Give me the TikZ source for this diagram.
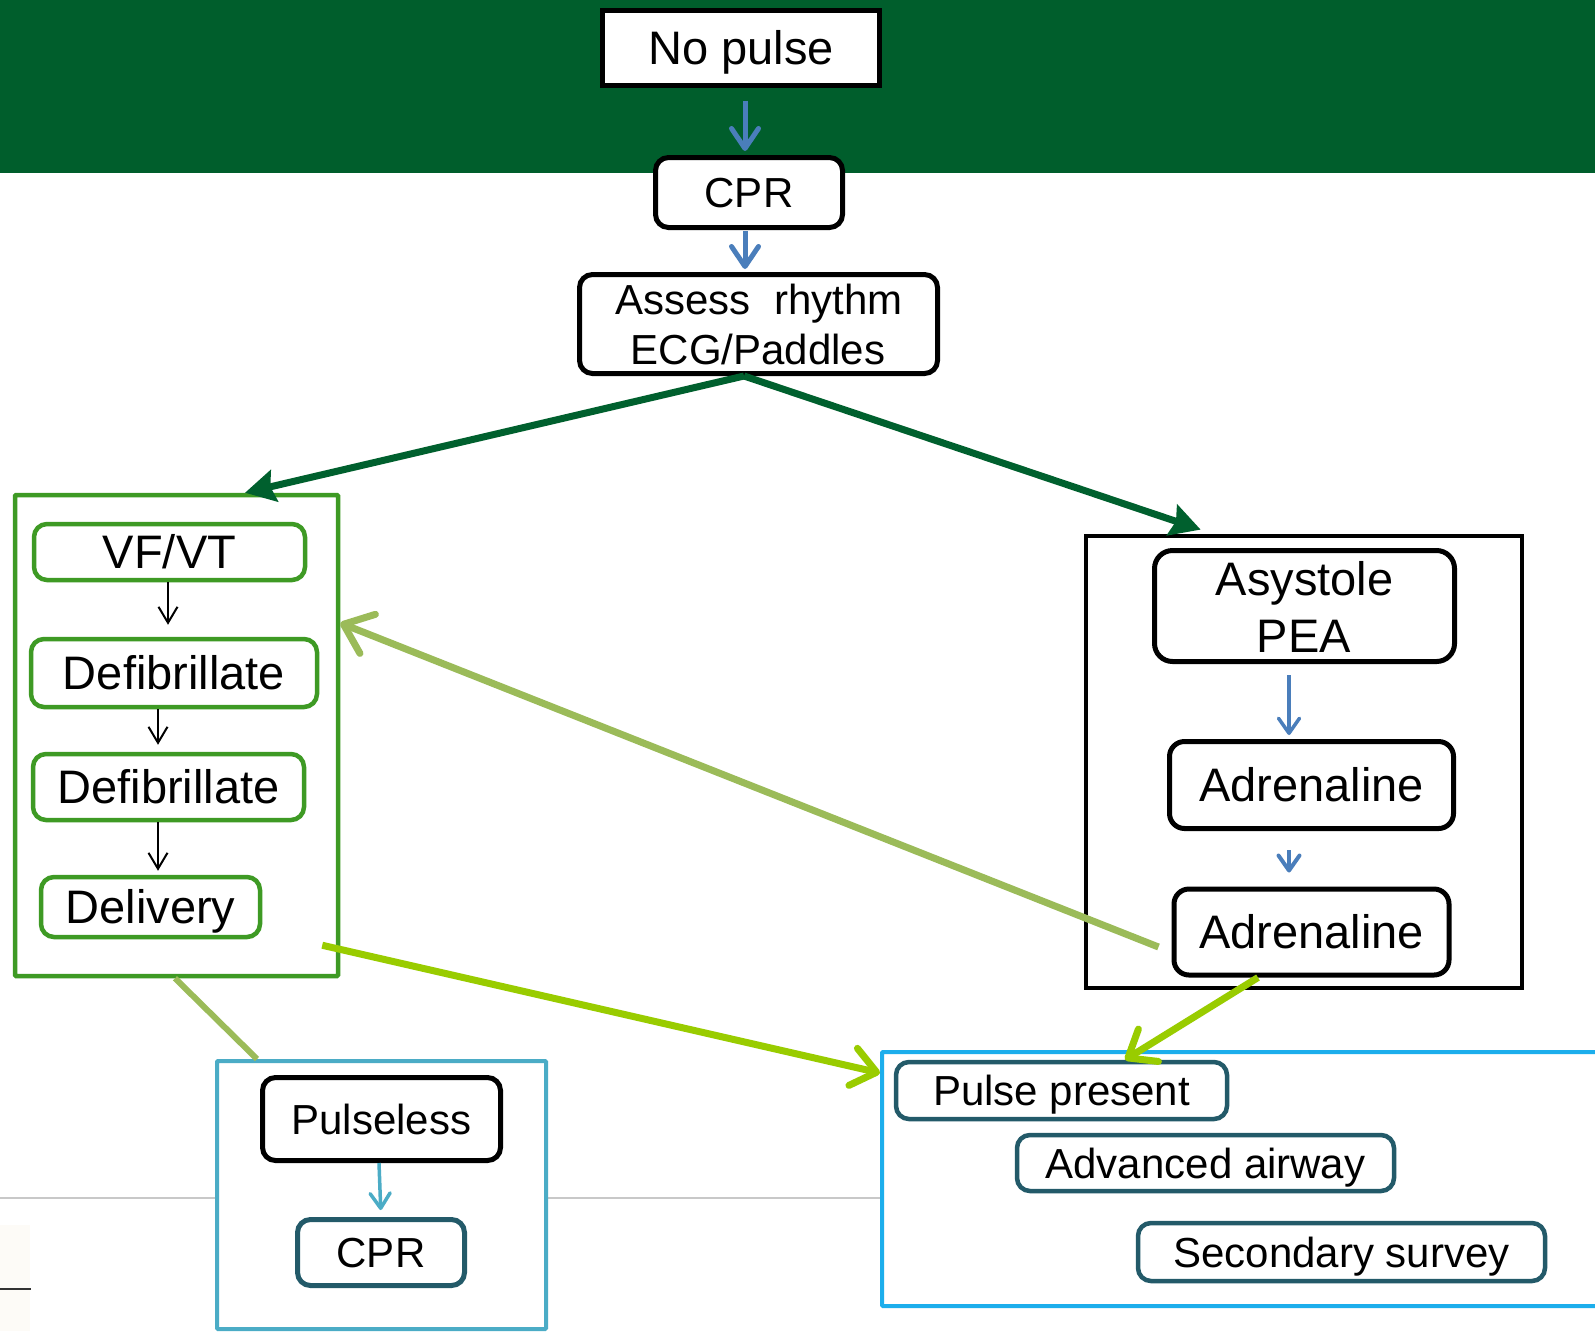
\documentclass[tikz,border=0pt]{standalone}
\usepackage{fontspec}
\setmainfont{Liberation Sans}
\usetikzlibrary{arrows.meta}
\definecolor{band}{RGB}{0,94,44}
\definecolor{dkgreen}{RGB}{0,96,46}
\definecolor{arrblue}{RGB}{74,126,187}
\definecolor{grpgreen}{RGB}{62,154,36}
\definecolor{olive}{RGB}{155,187,89}
\definecolor{lime}{RGB}{153,204,0}
\definecolor{ltblue}{RGB}{75,172,198}
\definecolor{teal}{RGB}{35,90,105}
\definecolor{skyblue}{RGB}{28,174,236}
\definecolor{rulegrey}{RGB}{200,200,200}
\definecolor{offwhite}{RGB}{253,251,247}
\definecolor{darkgrey}{RGB}{50,50,50}
\begin{document}
\begin{tikzpicture}[x=1pt,y=-1pt,
  big/.style={font=\fontsize{47}{56}\selectfont, text height=33.6pt, text depth=0pt},
  small/.style={font=\fontsize{42}{50}\selectfont, text height=30pt, text depth=0pt},
  bigtxt/.style={font=\fontsize{47}{56}\selectfont, inner sep=0pt, anchor=base},
  smalltxt/.style={font=\fontsize{42}{50}\selectfont, inner sep=0pt, anchor=base},
  box/.style={draw, fill=white, inner sep=0pt, rounded corners=13pt, line width=5pt},
  blackbox/.style={box, draw=black},
  greenbox/.style={box, draw=grpgreen, line width=4.5pt},
  tealbox/.style={box, draw=teal, line width=4.5pt},
  group/.style={draw, fill=white, inner sep=0pt, line width=4pt, rounded corners=1pt},
  bluearr/.style={draw=arrblue, line width=5pt, -{Straight Barb[length=20pt,width=27pt,round]}},
  thinblue/.style={draw=arrblue, line width=3.5pt, -{Straight Barb[length=15pt,width=21pt,round]}},
  blackarr/.style={draw=black, line width=2pt, -{Straight Barb[length=16pt,width=19pt]}},
  darkarr/.style={draw=dkgreen, line width=7pt, -{Stealth[length=30pt,width=32pt,inset=4pt]}},
  olivearr/.style={draw=olive, line width=7pt, -{Straight Barb[length=26pt,width=42pt,round]}},
  limearr/.style={draw=lime, line width=7pt, -{Straight Barb[length=24pt,width=38pt,round]}},
  ltbluearr/.style={draw=ltblue, line width=3.5pt, -{Straight Barb[length=15pt,width=20pt,round]}}
]
\useasboundingbox (0,0) rectangle (1595,1331);
\clip (0,0) rectangle (1595,1331);
% background
\fill[white] (0,0) rectangle (1595,1331);
\fill[band] (0,0) rectangle (1595,173);
\draw[rulegrey, line width=2pt] (0,1198) -- (1595,1198);
\fill[offwhite] (0,1225) rectangle (30,1331);
\draw[darkgrey, line width=2.5pt] (0,1289) -- (31,1289);

% groups
\node[group, draw=grpgreen, line width=4.5pt, minimum width=323pt, minimum height=481pt] (vgroup) at (176.5,735.5) {};
\node[group, draw=black, line width=4.5pt, rounded corners=0pt, minimum width=436pt, minimum height=452pt] (agroup) at (1304,762) {};
\node[group, draw=ltblue, minimum width=329pt, minimum height=268pt] (plgroup) at (381.5,1195) {};
\node[group, draw=skyblue, minimum width=738pt, minimum height=254pt] (ppgroup) at (1251,1179) {};

% top chain
\node[blackbox, big, rounded corners=0pt, minimum width=277pt, minimum height=75pt] (nopulse) at (741,47.5) {No pulse};
\node[blackbox, small, minimum width=187pt, minimum height=70pt] (cpr1) at (749,192.5) {CPR};
\node[blackbox, minimum width=358pt, minimum height=99pt] (assess) at (758.5,324) {};
\node[smalltxt] (assesst1) at (759,314) {Assess\ \ rhythm};
\node[smalltxt] (assesst2) at (758,364) {ECG/Paddles};

% left group
\node[greenbox, big, minimum width=271pt, minimum height=56pt] (vfvt) at (169.5,552) {VF/VT};
\node[greenbox, big, minimum width=286pt, minimum height=68pt] (defib1) at (174,673) {Defibrillate};
\node[greenbox, big, minimum width=271pt, minimum height=66pt] (defib2) at (168.5,787) {Defibrillate};
\node[greenbox, big, minimum width=219pt, minimum height=60pt] (delivery) at (150.5,907) {Delivery};

% right group
\node[blackbox, rounded corners=18pt, minimum width=300pt, minimum height=111pt] (asys) at (1304.5,606) {};
\node[bigtxt] (asyst1) at (1304.5,595) {Asystole};
\node[bigtxt] (asyst2) at (1304,652) {PEA};
\node[blackbox, big, rounded corners=15pt, minimum width=284pt, minimum height=87pt] (adren1) at (1311.5,785) {Adrenaline};
\node[blackbox, big, rounded corners=15pt, minimum width=275pt, minimum height=86pt] (adren2) at (1311.5,932) {Adrenaline};

% pulseless group
\node[blackbox, small, minimum width=238pt, minimum height=83pt] (pulseless) at (381.5,1119) {Pulseless};
\node[tealbox, small, line width=5pt, minimum width=167pt, minimum height=66pt] (cpr2) at (381,1252.5) {CPR};

% pulse present group
\node[tealbox, small, minimum width=331pt, minimum height=57pt] (ppresent) at (1061.5,1090.5) {Pulse present};
\node[tealbox, small, minimum width=377pt, minimum height=56pt] (airway) at (1205.5,1163) {Advanced airway};
\node[tealbox, small, minimum width=407pt, minimum height=58pt] (survey) at (1341.5,1252) {Secondary survey};

% connectors
\draw[bluearr, shorten <=13pt, shorten >=4pt] ([xshift=4pt]nopulse.south) -- ([xshift=-4pt]cpr1.north);
\draw[bluearr, shorten <=1pt, shorten >=3pt] ([xshift=-4pt]cpr1.south) -- ([xshift=-13.5pt]assess.north);
\draw[darkarr] ([xshift=-14.5pt]assess.south) -- ([xshift=68.5pt]vgroup.north);
\draw[darkarr, shorten >=13pt] ([xshift=-14.5pt]assess.south) -- ([xshift=-91pt]agroup.north);

\draw[blackarr, shorten >=12pt] ([xshift=-1.5pt]vfvt.south) -- ([xshift=-6pt]defib1.north);
\draw[blackarr, shorten >=7pt] ([xshift=-16pt]defib1.south) -- ([xshift=-10.5pt]defib2.north);
\draw[blackarr, shorten >=4pt] ([xshift=-10.5pt]defib2.south) -- ([xshift=7.5pt]delivery.north);

\draw[thinblue, shorten <=11pt, shorten >=4pt] ([xshift=-15.5pt]asys.south) -- ([xshift=-22.5pt]adren1.north);
\draw[thinblue, line width=4pt, shorten <=19pt, shorten >=14pt] ([xshift=-22.5pt]adren1.south) -- ([xshift=-22.5pt]adren2.north);

\draw[olivearr] ([xshift=-13pt,yshift=-15pt]adren2.west) -- ([yshift=112.5pt]vgroup.east);
\draw[limearr] ([xshift=-18pt,yshift=33pt]vgroup.south east) -- ([yshift=106pt]ppgroup.west);
\draw[limearr] ([xshift=-53.5pt]adren2.south) -- ([xshift=63.5pt]ppresent.north);
\draw[draw=olive, line width=6pt] ([xshift=-1.5pt]vgroup.south) -- ([xshift=-124.5pt]plgroup.north);
\draw[ltbluearr, shorten >=7pt] ([xshift=-2.5pt]pulseless.south) -- (cpr2.north);
\end{tikzpicture}
\end{document}
